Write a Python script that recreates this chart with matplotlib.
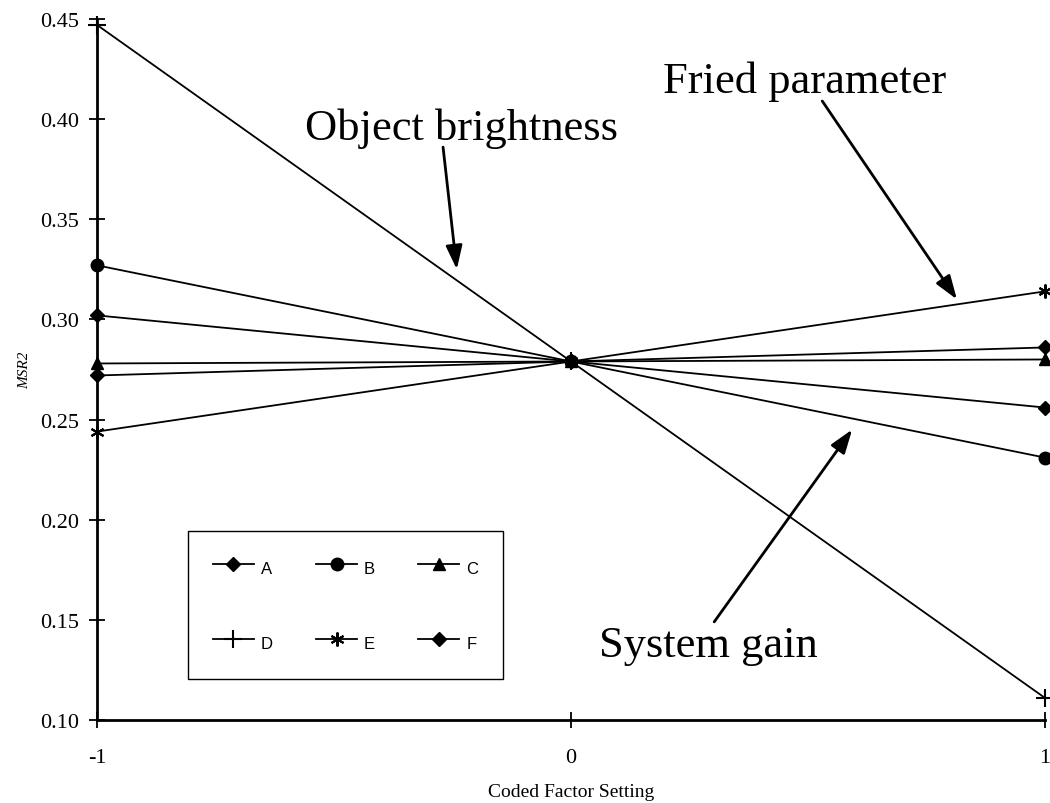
import numpy as np
import matplotlib.pyplot as plt

plt.rcParams['font.family'] = 'Liberation Serif'

x = [-1, 0, 1]
yA = [0.302, 0.279, 0.256]
yB = [0.327, 0.279, 0.231]
yC = [0.278, 0.279, 0.280]
yD = [0.447, 0.279, 0.111]
yE = [0.244, 0.279, 0.314]
yF = [0.272, 0.279, 0.286]
yticks = [0.10, 0.15, 0.20, 0.25, 0.30, 0.35, 0.40, 0.45]

fig = plt.figure(figsize=(10.5, 8.04), dpi=100)
ax = fig.add_axes([0.0924, 0.1032, 0.9029, 0.872])

base = dict(color='black', lw=1.3, clip_on=False)
lA, = ax.plot(x, yA, marker='D', ms=7, label='A', **base)
lB, = ax.plot(x, yB, marker='o', ms=9, label='B', **base)
lC, = ax.plot(x, yC, marker='^', ms=9, label='C', **base)
lD, = ax.plot(x, yD, marker='+', mew=1.5, ms=13, label='D', **base)
lE, = ax.plot(x, yE, marker=(6, 2, 0), mew=1.5, ms=10, label='E', **base)
lF, = ax.plot(x, yF, marker='D', ms=7, label='F', **base)

ax.set_xlim(-1, 1)
ax.set_ylim(0.10, 0.45)
ax.set_xticks([-1, 0, 1])
ax.set_xticklabels(['-1', '0', '1'])
ax.set_yticks(yticks)
ax.set_yticklabels(['%.2f' % v for v in yticks])
ax.tick_params(direction='inout', length=12, width=1.3, labelsize=16, pad=7)
ax.tick_params(axis='x', pad=14)
for s in ['top', 'right']:
    ax.spines[s].set_visible(False)
for s in ['left', 'bottom']:
    ax.spines[s].set_linewidth(2)

ax.set_xlabel('Coded Factor Setting', fontsize=14, labelpad=12)
ax.set_ylabel('MSR2', fontsize=11, style='italic', labelpad=6)

# legend in rows A B C / D E F
hs = [lA, lD, lB, lE, lC, lF]
leg = ax.legend(hs, [h.get_label() for h in hs], ncol=3, loc='lower left',
                bbox_to_anchor=(0.096, 0.058), fancybox=False, edgecolor='black',
                framealpha=1, labelspacing=3.1, handlelength=2.45, handleheight=1.8,
                handletextpad=0.42, columnspacing=2.6, borderpad=1.5, borderaxespad=0,
                prop={'family': 'Liberation Sans', 'size': 12})
leg.get_frame().set_linewidth(1.0)

arrow = dict(arrowstyle='-|>,head_length=0.72,head_width=0.25', color='black',
             lw=2, mutation_scale=20, shrinkA=0, shrinkB=0)

ax.text(-0.231, 0.390, 'Object brightness', fontsize=32, ha='center', va='baseline')
ax.annotate('', xy=(-0.241, 0.325), xytext=(-0.270, 0.386), arrowprops=arrow)

ax.text(0.492, 0.4136, 'Fried parameter', fontsize=32, ha='center', va='baseline')
ax.annotate('', xy=(0.814, 0.310), xytext=(0.530, 0.409), arrowprops=arrow)

ax.text(0.29, 0.132, 'System gain', fontsize=32, ha='center', va='baseline')
ax.annotate('', xy=(0.593, 0.245), xytext=(0.302, 0.149), arrowprops=arrow)

fig.savefig('out.png', dpi=100)
